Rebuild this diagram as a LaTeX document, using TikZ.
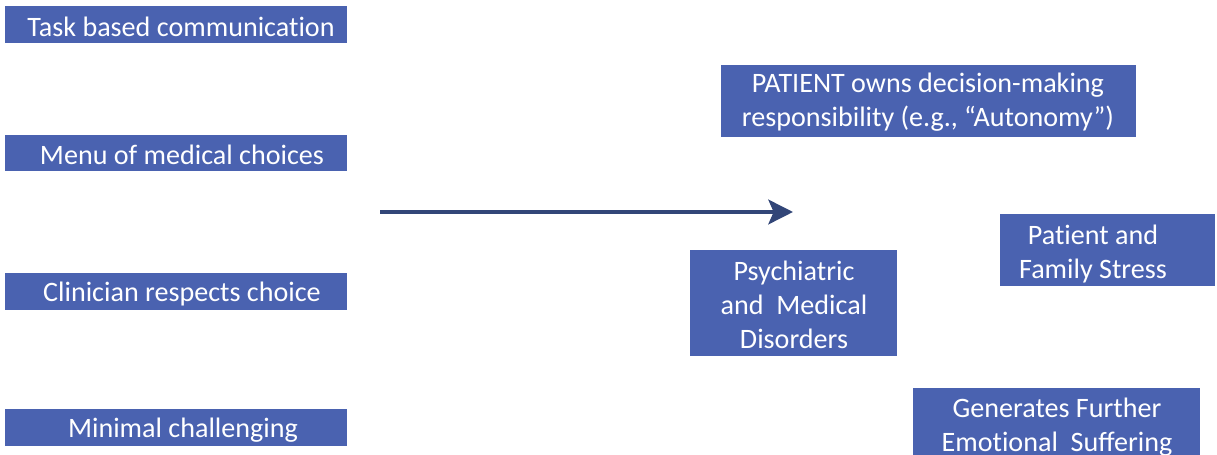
\documentclass[tikz,border=0pt]{standalone}
\usepackage{fontspec}
\setmainfont{Carlito}
\usetikzlibrary{arrows.meta}
\definecolor{boxblue}{RGB}{74,98,176}
\definecolor{arrownavy}{RGB}{50,70,120}
% keeps Carlito from joining t and i
\newcommand\tisep{\kern0pt}
\begin{document}
\begin{tikzpicture}[x=0.02cm,y=-0.02cm,
  blk/.style={fill=boxblue,draw=none,inner sep=0pt,anchor=north west},
  txt/.style={text=white,align=center,inner sep=0pt,font=\fontsize{16}{19.3}\selectfont}]
  \useasboundingbox (0,0) rectangle (1217,455);
  \clip (0,0) rectangle (1217,455);
  % left column
  \node[blk,minimum width=342*0.02cm,minimum height=37*0.02cm] (task) at (5,6) {};
  \node[blk,minimum width=342*0.02cm,minimum height=36*0.02cm] (menu) at (5,135) {};
  \node[blk,minimum width=342*0.02cm,minimum height=37*0.02cm] (respect) at (5,273) {};
  \node[blk,minimum width=342*0.02cm,minimum height=37*0.02cm] (minimal) at (5,409) {};
  \node[txt] (tasktxt) at (181,27) {Task based communicat\tisep ion};
  \node[txt] (menutxt) at (182,155) {Menu of medical choices};
  \node[txt] (respecttxt) at (182,294) {Clinician respects choice};
  \node[txt] (minimaltxt) at (183,430) {Minimal challenging};
  % right side
  \node[blk,minimum width=415*0.02cm,minimum height=72*0.02cm] (owns) at (721,65) {};
  \node[blk,minimum width=215*0.02cm,minimum height=72*0.02cm] (stress) at (1000,214) {};
  \node[blk,minimum width=207*0.02cm,minimum height=106*0.02cm] (disorders) at (690,250) {};
  \node[blk,minimum width=287*0.02cm,minimum height=80*0.02cm] (suffering) at (913,388) {};
  \node[txt] (ownstxt) at (928,102) {PATIENT owns decision-making\\responsibility (e.g., ``Autonomy'')};
  \node[txt] (stresstxt) at (1093,254) {Pat\tisep ient and\\Family Stress};
  \node[txt] (disorderstxt) at (794,305) {Psychiatric\\and~ Medical\\Disorders};
  \node[txt] (sufferingtxt) at (1057,427) {Generates Further\\Emot\tisep ional~ Suffering};
  % arrow
  \coordinate (from) at (380,212);
  \coordinate (to) at (793,212);
  \draw[arrownavy,line width=2.3pt,-{Stealth[length=14pt,width=14pt,inset=3pt]}] (from) -- (to);
\end{tikzpicture}
\end{document}
